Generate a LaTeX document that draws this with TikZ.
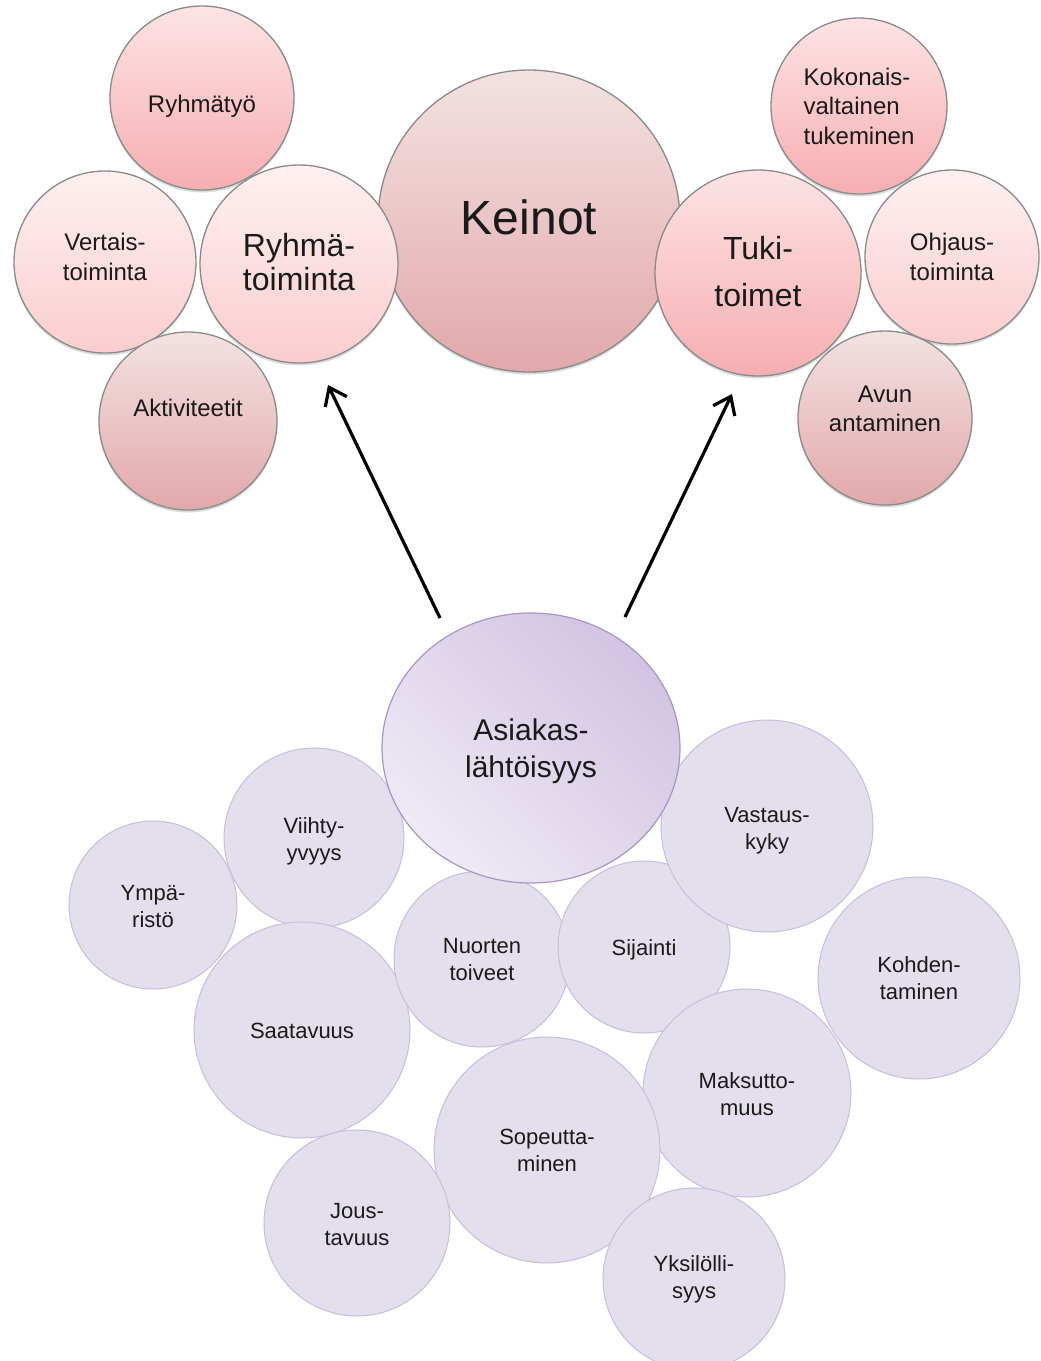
\documentclass[tikz,border=0pt]{standalone}
\usepackage{fontspec}
\setmainfont{Liberation Sans}
\usetikzlibrary{shapes.geometric,arrows.meta,shadows}
\definecolor{txt}{HTML}{1A1A1A}
\definecolor{pedge}{HTML}{8A8A8A}
\definecolor{pAt}{HTML}{FDE3E5}
\definecolor{pAb}{HTML}{F6AEB1}
\definecolor{pLt}{HTML}{FEF0F0}
\definecolor{pLb}{HTML}{FACDD0}
\definecolor{mt}{HTML}{F3E2E2}
\definecolor{mb}{HTML}{E2A8AB}
\definecolor{vfill}{HTML}{E4DFEC}
\definecolor{vedge}{HTML}{C8BDDB}
\definecolor{alight}{HTML}{EEEAF5}
\definecolor{adark}{HTML}{D2C4E2}
\definecolor{aedge}{HTML}{A696C3}
\begin{document}
\begin{tikzpicture}[x=1pt,y=-1pt,
  bub/.style={circle, inner sep=0pt},
  pinkbase/.style={bub, draw=pedge, line width=1.3pt,
    drop shadow={shadow xshift=0pt, shadow yshift=-2.5pt, opacity=0.28}},
  pinkA/.style={pinkbase, top color=pAt, bottom color=pAb},
  pinkL/.style={pinkbase, top color=pLt, bottom color=pLb},
  mauve/.style={pinkbase, top color=mt, bottom color=mb},
  violet/.style={bub, fill=vfill, draw=vedge, line width=1pt},
  lbl/.style={inner sep=0pt, align=center, text=txt},
  smallpink/.style={lbl, font=\fontsize{24}{29.5}\selectfont},
  vlbl/.style={lbl, font=\fontsize{22}{27}\selectfont},
  arr/.style={line width=3.2pt, -{Straight Barb[length=16pt,width=24pt]}}
]
\useasboundingbox[fill=white] (0,0) rectangle (1041,1361);

% top group: circles
\node[mauve, minimum size=302] (keinot) at (529,221) {};
\node[pinkA, minimum size=184] (ryhmatyo) at (202,98) {};
\node[pinkL, minimum size=182] (vertais) at (105,262) {};
\node[pinkL, minimum size=198] (ryhmat) at (299,264) {};
\node[mauve, minimum size=178] (aktiv) at (188,421) {};
\node[pinkA, minimum size=176] (kokon) at (859,106) {};
\node[pinkL, minimum size=174] (ohjaus) at (952,257) {};
\node[pinkA, minimum size=206] (tuki) at (758,273) {};
\node[mauve, minimum size=174] (avun) at (885,418) {};
% top group: texts
\node[lbl, font=\fontsize{48}{52}\selectfont] (keinotT) at (529,217) {Keinot};
\node[smallpink] (ryhmatyoT) at (202,106) {Ryhmätyö};
\node[smallpink] (vertaisT) at (105,257) {Vertais-\\toiminta};
\node[lbl, font=\fontsize{32}{34}\selectfont] (ryhmatT) at (299,262) {Ryhmä-\\toiminta};
\node[smallpink] (aktivT) at (188,408) {Aktiviteetit};
\node[smallpink, align=left] (kokonT) at (859,106) {Kokonais-\\valtainen\\tukeminen};
\node[smallpink] (ohjausT) at (952,257) {Ohjaus-\\toiminta};
\node[lbl, font=\fontsize{32}{47}\selectfont] (tukiT) at (758,272) {Tuki-\\toimet};
\node[smallpink] (avunT) at (885,409) {Avun\\antaminen};

% bottom group: circles
\node[violet, minimum size=168] (ympa) at (153,905) {};
\node[violet, minimum size=180] (viihty) at (314,838) {};
\node[violet, minimum size=216] (saata) at (302,1030) {};
\node[violet, minimum size=176] (nuorten) at (482,959) {};
\node[violet, minimum size=172] (sijainti) at (644,947) {};
\node[violet, minimum size=212] (vastaus) at (767,826) {};
\node[violet, minimum size=202] (kohden) at (919,978) {};
\node[violet, minimum size=208] (maksu) at (747,1093) {};
\node[violet, minimum size=226] (sopeu) at (547,1150) {};
\node[violet, minimum size=186] (jous) at (357,1223) {};
\node[violet, minimum size=182] (yksil) at (694,1279) {};
\node[ellipse, inner sep=0pt, minimum width=298, minimum height=270,
  draw=aedge, line width=1.2pt, left color=alight, right color=adark, shading angle=135]
  (asiakas) at (531,748) {};
% bottom group: texts
\node[vlbl] (ympaT) at (153,907) {Ympä-\\ristö};
\node[vlbl] (viihtyT) at (314,841) {Viihty-\\yvyys};
\node[vlbl] (saataT) at (302,1031) {Saatavuus};
\node[vlbl] (nuortenT) at (482,960) {Nuorten\\toiveet};
\node[vlbl] (sijaintiT) at (644,950) {Sijainti};
\node[vlbl] (vastausT) at (767,831) {Vastaus-\\kyky};
\node[vlbl] (kohdenT) at (919,978) {Kohden-\\taminen};
\node[vlbl] (maksuT) at (747,1094) {Maksutto-\\muus};
\node[vlbl] (sopeuT) at (547,1150) {Sopeutta-\\minen};
\node[vlbl] (jousT) at (357,1225) {Jous-\\tavuus};
\node[vlbl] (yksilT) at (694,1279) {Yksilölli-\\syys};
\node[lbl, font=\fontsize{30}{37}\selectfont] (asiakasT) at (531,751) {Asiakas-\\lähtöisyys};

% arrows
\coordinate (l1) at (440,618);
\coordinate (l2) at (328,385);
\coordinate (r1) at (625,617);
\coordinate (r2) at (732,394);
\draw[arr] (l1) -- (l2);
\draw[arr] (r1) -- (r2);
\end{tikzpicture}
\end{document}
